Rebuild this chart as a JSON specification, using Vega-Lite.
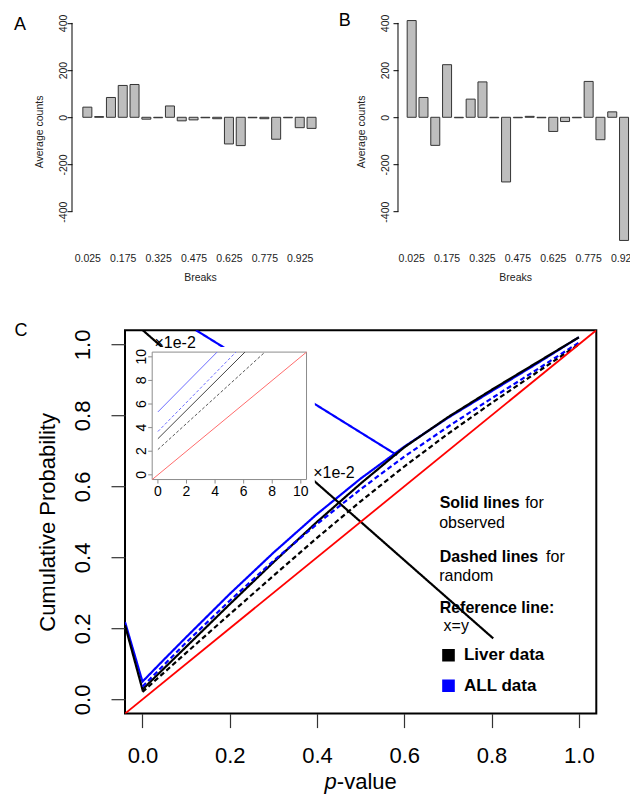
{
  "$schema": "https://vega.github.io/schema/vega-lite/v6.json",
  "background": "white",
  "padding": {"left": 2, "top": 11.2, "right": 0, "bottom": 0},
  "config": {
    "font": "Liberation Sans",
    "view": {"stroke": null},
    "axis": {"grid": false, "labelColor": "black", "titleColor": "black", "tickColor": "black", "domainColor": "black", "titleFontWeight": "normal", "labelFont": "Liberation Sans", "titleFont": "Liberation Sans", "labelOverlap": false},
    "text": {"font": "Liberation Sans", "color": "black"}
  },
  "spacing": 37,
  "vconcat": [
    {
      "spacing": 10,
      "hconcat": [
        {"width": 1, "height": 1, "data": {"values": []}, "mark": {"type": "point", "opacity": 0}},
        {
          "width": 256,
          "height": 226.5,
          "layer": [
            {
              "data": {"values": [
                {"brk": 0.025, "count": 43}, {"brk": 0.075, "count": 3}, {"brk": 0.125, "count": 84}, {"brk": 0.175, "count": 135},
                {"brk": 0.225, "count": 139}, {"brk": 0.275, "count": -8}, {"brk": 0.325, "count": -2}, {"brk": 0.375, "count": 48},
                {"brk": 0.425, "count": -15}, {"brk": 0.475, "count": -11}, {"brk": 0.525, "count": -2}, {"brk": 0.575, "count": -6},
                {"brk": 0.625, "count": -113}, {"brk": 0.675, "count": -120}, {"brk": 0.725, "count": -2}, {"brk": 0.775, "count": -6},
                {"brk": 0.825, "count": -93}, {"brk": 0.875, "count": -2}, {"brk": 0.925, "count": -44}, {"brk": 0.975, "count": -47}
              ]},
              "mark": {"type": "bar", "width": 9, "fill": "#bebebe", "stroke": "#333333", "strokeWidth": 1},
              "encoding": {
                "x": {"field": "brk", "type": "quantitative", "scale": {"domain": [-0.04, 1.0447], "nice": false, "zero": false, "padding": 0},
                  "axis": {"values": [0.025, 0.175, 0.325, 0.475, 0.625, 0.775, 0.925], "format": ".3f", "domain": false, "ticks": false, "tickSize": 0, "labelPadding": 9, "labelFlush": false, "labelOverlap": false, "labelFontSize": 10.5, "labelColor": "#222222", "title": "Breaks", "titleFontSize": 10.5, "titleColor": "#222222", "titlePadding": 8}},
                "y": {"field": "count", "type": "quantitative", "scale": {"domain": [-540, 420], "nice": false},
                  "axis": {"values": [-400, -200, 0, 200, 400], "labelExpr": "'' + datum.value", "labelAngle": 270, "labelAlign": "center", "labelBaseline": "alphabetic", "labelFontSize": 10.5, "labelColor": "#222222", "tickSize": 5, "labelPadding": 1, "domain": false, "title": "Average counts", "titleFontSize": 10.5, "titleColor": "#222222", "titlePadding": 14}}
              }
            },
            {
              "data": {"values": [{}]},
              "mark": {"type": "rule", "color": "black", "strokeWidth": 1},
              "encoding": {"x": {"datum": -0.04}, "y": {"datum": -400}, "y2": {"datum": 400}}
            },
            {
              "data": {"values": [{}]},
              "mark": {"type": "text", "text": "A", "align": "left", "baseline": "alphabetic", "fontSize": 18},
              "encoding": {"x": {"datum": -0.2858}, "y": {"datum": 371}}
            }
          ]
        },
        {
          "width": 234.3,
          "height": 226.5,
          "layer": [
            {
              "data": {"values": [
                {"brk": 0.025, "count": 410}, {"brk": 0.075, "count": 84}, {"brk": 0.125, "count": -119}, {"brk": 0.175, "count": 223},
                {"brk": 0.225, "count": -2}, {"brk": 0.275, "count": 77}, {"brk": 0.325, "count": 150}, {"brk": 0.375, "count": -2},
                {"brk": 0.425, "count": -274}, {"brk": 0.475, "count": -2}, {"brk": 0.525, "count": 4}, {"brk": 0.575, "count": -2},
                {"brk": 0.625, "count": -60}, {"brk": 0.675, "count": -18}, {"brk": 0.725, "count": -2}, {"brk": 0.775, "count": 152},
                {"brk": 0.825, "count": -95}, {"brk": 0.875, "count": 23}, {"brk": 0.925, "count": -522}, {"brk": 0.975, "count": -30}
              ]},
              "mark": {"type": "bar", "width": 9, "fill": "#bebebe", "stroke": "#333333", "strokeWidth": 1, "clip": true},
              "encoding": {
                "x": {"field": "brk", "type": "quantitative", "scale": {"domain": [-0.033, 0.96], "nice": false, "zero": false, "padding": 0},
                  "axis": {"domain": false, "ticks": false, "labels": false, "tickSize": 0, "title": "Breaks", "titleFontSize": 10.5, "titleColor": "#222222", "titlePadding": 27.5}},
                "y": {"field": "count", "type": "quantitative", "scale": {"domain": [-540, 420], "nice": false},
                  "axis": {"values": [-400, -200, 0, 200, 400], "labelExpr": "'' + datum.value", "labelAngle": 270, "labelAlign": "center", "labelBaseline": "alphabetic", "labelFontSize": 10.5, "labelColor": "#222222", "tickSize": 5, "labelPadding": 4, "domain": false, "title": "Average counts", "titleFontSize": 10.5, "titleColor": "#222222", "titlePadding": 14}}
              }
            },
            {
              "data": {"values": [{"brk": 0.025}, {"brk": 0.175}, {"brk": 0.325}, {"brk": 0.475}, {"brk": 0.625}, {"brk": 0.775}, {"brk": 0.925}]},
              "mark": {"type": "text", "fontSize": 10.5, "color": "#222222", "align": "center", "baseline": "top"},
              "encoding": {"x": {"field": "brk", "type": "quantitative"}, "y": {"datum": -578}, "text": {"field": "brk", "type": "quantitative", "format": ".3f"}}
            },
            {
              "data": {"values": [{}]},
              "mark": {"type": "rule", "color": "black", "strokeWidth": 1},
              "encoding": {"x": {"datum": -0.033}, "y": {"datum": -400}, "y2": {"datum": 400}}
            },
            {
              "data": {"values": [{}]},
              "mark": {"type": "text", "text": "B", "align": "left", "baseline": "alphabetic", "fontSize": 18},
              "encoding": {"x": {"datum": -0.2843}, "y": {"datum": 387}}
            }
          ]
        }
      ]
    },
    {
      "spacing": 10,
      "hconcat": [
        {"width": 1, "height": 1, "data": {"values": []}, "mark": {"type": "point", "opacity": 0}},
        {
          "width": 471.3,
          "height": 383.4,
          "view": {"stroke": "black", "strokeWidth": 2},
          "resolve": {"scale": {"x": "independent", "y": "independent", "color": "independent", "strokeDash": "independent"}},
          "layer": [
            {
              "layer": [
                {
                  "data": {"values": [
                    {"p": -0.04, "cp": 0.218, "set": "ALL data", "kind": "observed", "seg": "a1"},
                    {"p": 0.0, "cp": 0.05, "set": "ALL data", "kind": "observed", "seg": "a1"},
                    {"p": 0.05, "cp": 0.113, "set": "ALL data", "kind": "observed", "seg": "a1"},
                    {"p": 0.1, "cp": 0.175, "set": "ALL data", "kind": "observed", "seg": "a1"},
                    {"p": 0.2, "cp": 0.297, "set": "ALL data", "kind": "observed", "seg": "a1"},
                    {"p": 0.3, "cp": 0.413, "set": "ALL data", "kind": "observed", "seg": "a1"},
                    {"p": 0.4, "cp": 0.522, "set": "ALL data", "kind": "observed", "seg": "a1"},
                    {"p": 0.5, "cp": 0.622, "set": "ALL data", "kind": "observed", "seg": "a1"},
                    {"p": 0.6, "cp": 0.712, "set": "ALL data", "kind": "observed", "seg": "a1"},
                    {"p": 0.7, "cp": 0.793, "set": "ALL data", "kind": "observed", "seg": "a1"},
                    {"p": 0.8, "cp": 0.868, "set": "ALL data", "kind": "observed", "seg": "a1"},
                    {"p": 0.9, "cp": 0.943, "set": "ALL data", "kind": "observed", "seg": "a1"},
                    {"p": 1.0, "cp": 1.02, "set": "ALL data", "kind": "observed", "seg": "a1"},
                    {"p": 0.1227, "cp": 1.04, "set": "ALL data", "kind": "observed", "seg": "a2"},
                    {"p": 0.5834, "cp": 0.688, "set": "ALL data", "kind": "observed", "seg": "a2"},
                    {"p": -0.04, "cp": 0.209, "set": "Liver data", "kind": "observed", "seg": "l1"},
                    {"p": 0.0, "cp": 0.028, "set": "Liver data", "kind": "observed", "seg": "l1"},
                    {"p": 0.05, "cp": 0.088, "set": "Liver data", "kind": "observed", "seg": "l1"},
                    {"p": 0.1, "cp": 0.148, "set": "Liver data", "kind": "observed", "seg": "l1"},
                    {"p": 0.2, "cp": 0.268, "set": "Liver data", "kind": "observed", "seg": "l1"},
                    {"p": 0.3, "cp": 0.386, "set": "Liver data", "kind": "observed", "seg": "l1"},
                    {"p": 0.4, "cp": 0.5, "set": "Liver data", "kind": "observed", "seg": "l1"},
                    {"p": 0.5, "cp": 0.608, "set": "Liver data", "kind": "observed", "seg": "l1"},
                    {"p": 0.6, "cp": 0.71, "set": "Liver data", "kind": "observed", "seg": "l1"},
                    {"p": 0.7, "cp": 0.795, "set": "Liver data", "kind": "observed", "seg": "l1"},
                    {"p": 0.8, "cp": 0.872, "set": "Liver data", "kind": "observed", "seg": "l1"},
                    {"p": 0.9, "cp": 0.946, "set": "Liver data", "kind": "observed", "seg": "l1"},
                    {"p": 1.0, "cp": 1.02, "set": "Liver data", "kind": "observed", "seg": "l1"},
                    {"p": 0.0007, "cp": 1.04, "set": "Liver data", "kind": "observed", "seg": "l2"},
                    {"p": 0.8038, "cp": 0.1718, "set": "Liver data", "kind": "observed", "seg": "l2"},
                    {"p": 0.0, "cp": 0.036, "set": "ALL data", "kind": "random", "seg": "a3"},
                    {"p": 0.05, "cp": 0.098, "set": "ALL data", "kind": "random", "seg": "a3"},
                    {"p": 0.1, "cp": 0.16, "set": "ALL data", "kind": "random", "seg": "a3"},
                    {"p": 0.2, "cp": 0.278, "set": "ALL data", "kind": "random", "seg": "a3"},
                    {"p": 0.3, "cp": 0.39, "set": "ALL data", "kind": "random", "seg": "a3"},
                    {"p": 0.4, "cp": 0.494, "set": "ALL data", "kind": "random", "seg": "a3"},
                    {"p": 0.5, "cp": 0.592, "set": "ALL data", "kind": "random", "seg": "a3"},
                    {"p": 0.6, "cp": 0.684, "set": "ALL data", "kind": "random", "seg": "a3"},
                    {"p": 0.7, "cp": 0.768, "set": "ALL data", "kind": "random", "seg": "a3"},
                    {"p": 0.8, "cp": 0.848, "set": "ALL data", "kind": "random", "seg": "a3"},
                    {"p": 0.9, "cp": 0.926, "set": "ALL data", "kind": "random", "seg": "a3"},
                    {"p": 1.0, "cp": 1.005, "set": "ALL data", "kind": "random", "seg": "a3"},
                    {"p": 0.0, "cp": 0.021, "set": "Liver data", "kind": "random", "seg": "l3"},
                    {"p": 0.05, "cp": 0.076, "set": "Liver data", "kind": "random", "seg": "l3"},
                    {"p": 0.1, "cp": 0.131, "set": "Liver data", "kind": "random", "seg": "l3"},
                    {"p": 0.2, "cp": 0.24, "set": "Liver data", "kind": "random", "seg": "l3"},
                    {"p": 0.3, "cp": 0.348, "set": "Liver data", "kind": "random", "seg": "l3"},
                    {"p": 0.4, "cp": 0.455, "set": "Liver data", "kind": "random", "seg": "l3"},
                    {"p": 0.5, "cp": 0.558, "set": "Liver data", "kind": "random", "seg": "l3"},
                    {"p": 0.6, "cp": 0.656, "set": "Liver data", "kind": "random", "seg": "l3"},
                    {"p": 0.7, "cp": 0.748, "set": "Liver data", "kind": "random", "seg": "l3"},
                    {"p": 0.8, "cp": 0.835, "set": "Liver data", "kind": "random", "seg": "l3"},
                    {"p": 0.9, "cp": 0.918, "set": "Liver data", "kind": "random", "seg": "l3"},
                    {"p": 1.0, "cp": 1.0, "set": "Liver data", "kind": "random", "seg": "l3"}
                  ]},
                  "mark": {"type": "line", "strokeWidth": 2.2, "clip": true},
                  "encoding": {
                    "x": {"field": "p", "type": "quantitative", "scale": {"domain": [-0.04, 1.04], "nice": false, "zero": false},
                      "axis": {"values": [0, 0.2, 0.4, 0.6, 0.8, 1.0], "format": ".1f", "domain": false, "tickSize": 14, "tickWidth": 1.2, "tickColor": "#333333", "labelFontSize": 22, "labelPadding": 18, "labelFlush": false, "title": null}},
                    "y": {"field": "cp", "type": "quantitative", "scale": {"domain": [-0.04, 1.04], "nice": false, "zero": false},
                      "axis": {"values": [0, 0.2, 0.4, 0.6, 0.8, 1.0], "format": ".1f", "domain": false, "tickSize": 14, "tickWidth": 1.2, "tickColor": "#333333", "labelAngle": 270, "labelAlign": "center", "labelBaseline": "alphabetic", "labelFontSize": 22, "labelPadding": 22, "labelFlush": false, "title": "Cumulative Probability", "titleFontSize": 22, "titlePadding": 12}},
                    "color": {"field": "set", "type": "nominal", "scale": {"domain": ["Liver data", "ALL data"], "range": ["#000000", "#0000ff"]},
                      "legend": {"orient": "none", "legendX": 315, "legendY": 316.5, "title": null, "symbolType": "square", "symbolSize": 40, "symbolStrokeWidth": 6.3, "symbolDash": [1, 0], "labelFontSize": 17, "labelFontWeight": "bold", "labelColor": "black", "labelFont": "Liberation Sans", "rowPadding": -2.5, "labelOffset": 7}},
                    "strokeDash": {"field": "kind", "type": "nominal", "scale": {"domain": ["observed", "random"], "range": [[1, 0], [5, 3]]}, "legend": null},
                    "detail": {"field": "seg"}
                  }
                },
                {
                  "data": {"values": [{"p": -0.04, "cp": -0.04}, {"p": 1.04, "cp": 1.04}]},
                  "mark": {"type": "line", "color": "#ff0000", "strokeWidth": 1.8, "clip": true},
                  "encoding": {"x": {"field": "p", "type": "quantitative"}, "y": {"field": "cp", "type": "quantitative"}}
                },
                {
                  "data": {"values": [{}]},
                  "mark": {"type": "rect", "fill": "white", "stroke": null},
                  "encoding": {"x": {"datum": -0.03}, "x2": {"datum": 0.395}, "y": {"datum": 0.55}, "y2": {"datum": 0.993}}
                },
                {
                  "data": {"values": [{}]},
                  "mark": {"type": "text", "text": "C", "align": "left", "baseline": "alphabetic", "fontSize": 18},
                  "encoding": {"x": {"datum": -0.2933}, "y": {"datum": 1.0234}}
                },
                {
                  "data": {"values": [{}]},
                  "mark": {"type": "text", "text": "p", "align": "left", "baseline": "alphabetic", "fontSize": 22, "fontStyle": "italic"},
                  "encoding": {"x": {"datum": 0.4171}, "y": {"datum": -0.2527}}
                },
                {
                  "data": {"values": [{}]},
                  "mark": {"type": "text", "text": "-value", "align": "left", "baseline": "alphabetic", "fontSize": 22},
                  "encoding": {"x": {"datum": 0.4455}, "y": {"datum": -0.2527}}
                },
                {
                  "data": {"values": [{}]},
                  "mark": {"type": "text", "text": "Solid lines", "align": "left", "baseline": "alphabetic", "fontSize": 16, "fontWeight": "bold"},
                  "encoding": {"x": {"datum": 0.681}, "y": {"datum": 0.538}}
                },
                {
                  "data": {"values": [{}]},
                  "mark": {"type": "text", "text": "for", "align": "left", "baseline": "alphabetic", "fontSize": 16},
                  "encoding": {"x": {"datum": 0.877}, "y": {"datum": 0.538}}
                },
                {
                  "data": {"values": [{}]},
                  "mark": {"type": "text", "text": "observed", "align": "left", "baseline": "alphabetic", "fontSize": 16},
                  "encoding": {"x": {"datum": 0.680}, "y": {"datum": 0.4817}}
                },
                {
                  "data": {"values": [{}]},
                  "mark": {"type": "text", "text": "Dashed lines", "align": "left", "baseline": "alphabetic", "fontSize": 16, "fontWeight": "bold"},
                  "encoding": {"x": {"datum": 0.681}, "y": {"datum": 0.3876}}
                },
                {
                  "data": {"values": [{}]},
                  "mark": {"type": "text", "text": "for", "align": "left", "baseline": "alphabetic", "fontSize": 16},
                  "encoding": {"x": {"datum": 0.925}, "y": {"datum": 0.3876}}
                },
                {
                  "data": {"values": [{}]},
                  "mark": {"type": "text", "text": "random", "align": "left", "baseline": "alphabetic", "fontSize": 16},
                  "encoding": {"x": {"datum": 0.680}, "y": {"datum": 0.334}}
                },
                {
                  "data": {"values": [{}]},
                  "mark": {"type": "text", "text": "Reference line:", "align": "left", "baseline": "alphabetic", "fontSize": 16, "fontWeight": "bold"},
                  "encoding": {"x": {"datum": 0.681}, "y": {"datum": 0.2423}}
                },
                {
                  "data": {"values": [{}]},
                  "mark": {"type": "text", "text": "x=y", "align": "left", "baseline": "alphabetic", "fontSize": 16},
                  "encoding": {"x": {"datum": 0.690}, "y": {"datum": 0.1915}}
                }
              ]
            },
            {
              "layer": [
                {
                  "data": {"values": [{}]},
                  "mark": {"type": "rect", "filled": false, "stroke": "#8c8c8c", "strokeWidth": 1},
                  "encoding": {
                    "x": {"datum": -0.4, "type": "quantitative", "scale": {"domain": [-2.303, 30.68], "nice": false, "zero": false}, "axis": null},
                    "x2": {"datum": 10.4},
                    "y": {"datum": -0.4, "type": "quantitative", "scale": {"domain": [-20.235, 12.256], "nice": false, "zero": false}, "axis": null},
                    "y2": {"datum": 10.4}
                  }
                },
                {
                  "data": {"values": [{"ix": -0.4, "iy": -0.4}, {"ix": 10.4, "iy": 10.4}]},
                  "mark": {"type": "line", "color": "#ff6b6b", "strokeWidth": 1},
                  "encoding": {"x": {"field": "ix", "type": "quantitative", "axis": null}, "y": {"field": "iy", "type": "quantitative", "axis": null}}
                },
                {
                  "data": {"values": [{"ix": 0, "iy": 2.14}, {"ix": 7.49, "iy": 10.4}]},
                  "mark": {"type": "line", "color": "#555555", "strokeWidth": 1, "strokeDash": [3, 2]},
                  "encoding": {"x": {"field": "ix", "type": "quantitative", "axis": null}, "y": {"field": "iy", "type": "quantitative", "axis": null}}
                },
                {
                  "data": {"values": [{"ix": 0, "iy": 3.06}, {"ix": 6.09, "iy": 10.4}]},
                  "mark": {"type": "line", "color": "#444444", "strokeWidth": 1},
                  "encoding": {"x": {"field": "ix", "type": "quantitative", "axis": null}, "y": {"field": "iy", "type": "quantitative", "axis": null}}
                },
                {
                  "data": {"values": [{"ix": 0, "iy": 3.67}, {"ix": 5.46, "iy": 10.4}]},
                  "mark": {"type": "line", "color": "#6b6bff", "strokeWidth": 1, "strokeDash": [3, 2]},
                  "encoding": {"x": {"field": "ix", "type": "quantitative", "axis": null}, "y": {"field": "iy", "type": "quantitative", "axis": null}}
                },
                {
                  "data": {"values": [{"ix": 0, "iy": 5.33}, {"ix": 4.14, "iy": 10.4}]},
                  "mark": {"type": "line", "color": "#6b6bff", "strokeWidth": 1},
                  "encoding": {"x": {"field": "ix", "type": "quantitative", "axis": null}, "y": {"field": "iy", "type": "quantitative", "axis": null}}
                },
                {
                  "data": {"values": [{"v": 0}, {"v": 2}, {"v": 4}, {"v": 6}, {"v": 8}, {"v": 10}]},
                  "mark": {"type": "rule", "color": "#8c8c8c", "strokeWidth": 1},
                  "encoding": {"x": {"field": "v", "type": "quantitative", "axis": null}, "y": {"datum": -0.4, "axis": null}, "y2": {"datum": -0.74}}
                },
                {
                  "data": {"values": [{"v": 0}, {"v": 2}, {"v": 4}, {"v": 6}, {"v": 8}, {"v": 10}]},
                  "mark": {"type": "rule", "color": "#8c8c8c", "strokeWidth": 1},
                  "encoding": {"y": {"field": "v", "type": "quantitative", "axis": null}, "x": {"datum": -0.4, "axis": null}, "x2": {"datum": -0.68}}
                },
                {
                  "data": {"values": [{"v": 0}, {"v": 2}, {"v": 4}, {"v": 6}, {"v": 8}, {"v": 10}]},
                  "mark": {"type": "text", "fontSize": 14, "align": "center", "baseline": "top"},
                  "encoding": {"x": {"field": "v", "type": "quantitative", "axis": null}, "y": {"datum": -0.85, "axis": null}, "text": {"field": "v", "type": "quantitative"}}
                },
                {
                  "data": {"values": [{"v": 0}, {"v": 2}, {"v": 4}, {"v": 6}, {"v": 8}, {"v": 10}]},
                  "mark": {"type": "text", "fontSize": 14, "align": "center", "baseline": "alphabetic", "angle": 270},
                  "encoding": {"y": {"field": "v", "type": "quantitative", "axis": null}, "x": {"datum": -0.8, "axis": null}, "text": {"field": "v", "type": "quantitative"}}
                },
                {
                  "data": {"values": [{}]},
                  "mark": {"type": "text", "text": "×1e-2", "align": "left", "baseline": "alphabetic", "fontSize": 16},
                  "encoding": {"x": {"datum": -0.24, "axis": null}, "y": {"datum": 10.71, "axis": null}}
                },
                {
                  "data": {"values": [{}]},
                  "mark": {"type": "text", "text": "×1e-2", "align": "left", "baseline": "alphabetic", "fontSize": 16},
                  "encoding": {"x": {"datum": 10.87, "axis": null}, "y": {"datum": -0.28, "axis": null}}
                }
              ]
            }
          ]
        }
      ]
    }
  ]
}
